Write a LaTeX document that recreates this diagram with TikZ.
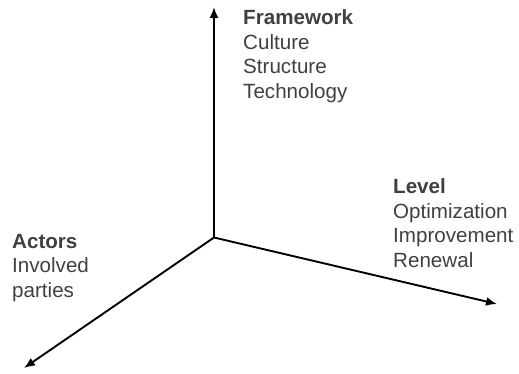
\documentclass[tikz,border=0pt]{standalone}
\usepackage{fontspec}
\setmainfont{Liberation Sans}
\usetikzlibrary{arrows.meta}
\definecolor{txt}{HTML}{404040}
\begin{document}
\begin{tikzpicture}[x=1pt,y=-1pt,
  axis/.style={line width=1.9pt,-{Latex[length=11pt,width=9pt]}},
  lab/.style={anchor=base west,inner sep=0pt,align=left,text=txt,font=\fontsize{20.6}{24.5}\selectfont}]
\useasboundingbox (0,0) rectangle (519,373);
\coordinate (o) at (214,237.5);
\coordinate (up) at (214,7);
\coordinate (rt) at (497,304);
\coordinate (lf) at (24,368);
\draw[axis] (o) -- (up);
\draw[axis] (o) -- (rt);
\draw[axis] (o) -- (lf);
\node[lab] (fw) at (243,98) {\textbf{Framework}\\Culture\\Structure\\Technology};
\node[lab] (lv) at (393,267) {\textbf{Level}\\Optimization\\Improvement\\Renewal};
\node[lab] (ac) at (12,297) {\textbf{Actors}\\Involved\\parties};
\end{tikzpicture}
\end{document}
